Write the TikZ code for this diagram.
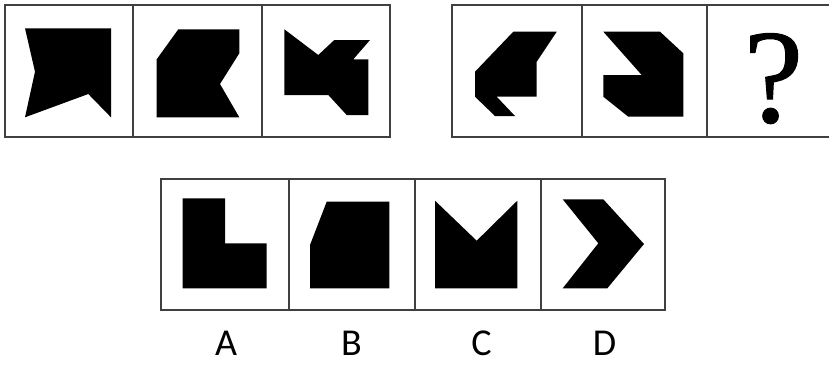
\documentclass[tikz,border=0pt]{standalone}
\usepackage{fontspec}
\setmainfont{Liberation Serif}
\newfontfamily\labfont{Carlito}
\font\qmark="Liberation Serif:embolden=0.7" at 134pt
\begin{document}
\begin{tikzpicture}[x=1pt,y=-1pt,
  panel/.style={draw=black!75,line width=2pt},
  shp/.style={fill=black,draw=none},
  lab/.style={font=\labfont\fontsize{38}{38}\selectfont,inner sep=0pt,anchor=base}]
\useasboundingbox (0,0) rectangle (829,365);
% row 1 left
\draw[panel] (5,5) rectangle (390,137);
\draw[panel] (133,5) -- (133,137);
\draw[panel] (262,5) -- (262,137);
% row 1 right
\draw[panel] (452,5) rectangle (835,137);
\draw[panel] (582,5) -- (582,137);
\draw[panel] (707,5) -- (707,137);
% row 2
\draw[panel] (161,178.5) rectangle (665,310);
\draw[panel] (288.5,178.5) -- (288.5,310);
\draw[panel] (414.5,178.5) -- (414.5,310);
\draw[panel] (541,178.5) -- (541,310);
% shapes row 1
\fill[shp] (25,28.3) -- (111,28.3) -- (111,117.3) -- (88.3,94) -- (25,117.3) -- (35,71.7) -- cycle;
\fill[shp] (178.3,29.3) -- (239.3,29.3) -- (239.3,53.3) -- (220,84) -- (239.3,117.3) -- (156.7,117.3) -- (156.7,59.3) -- cycle;
\fill[shp] (284.3,29.3) -- (318.3,55) -- (334.3,40) -- (370,40) -- (353.3,59.3) -- (368.3,59.3) -- (368.3,115) -- (346.7,115) -- (328.3,95) -- (284.3,95) -- cycle;
\fill[shp] (513.3,31.7) -- (556.7,31.7) -- (536.7,61.7) -- (536.7,96.7) -- (496.7,96.7) -- (515,116) -- (495,116) -- (475,96.7) -- (475,71.7) -- cycle;
\fill[shp] (603.3,31.7) -- (660,31.7) -- (683.3,53.3) -- (683.3,116.7) -- (628.3,116.7) -- (603.3,96.7) -- (603.3,75) -- (641.7,75) -- cycle;
\node[inner sep=0pt,anchor=base,font=\qmark] (q) at (773.5,122) {?};
% options
\fill[shp] (182.7,198.3) -- (225,198.3) -- (225,243.3) -- (266.7,243.3) -- (266.7,288.3) -- (182.7,288.3) -- cycle;
\fill[shp] (326.7,201.7) -- (389.3,201.7) -- (389.3,288.3) -- (310,288.3) -- (310,245) -- cycle;
\fill[shp] (435,200.7) -- (476.7,240.7) -- (517.3,200.7) -- (517.3,288.3) -- (435,288.3) -- cycle;
\fill[shp] (562.7,199.3) -- (603.3,199.3) -- (644,244) -- (607.3,288.3) -- (562.7,288.3) -- (598.3,243.3) -- cycle;
\node[lab] (la) at (226,355) {A};
\node[lab] (lb) at (351.5,355) {B};
\node[lab] (lc) at (481.5,355) {C};
\node[lab] (ld) at (604.5,355) {D};
\end{tikzpicture}
\end{document}
